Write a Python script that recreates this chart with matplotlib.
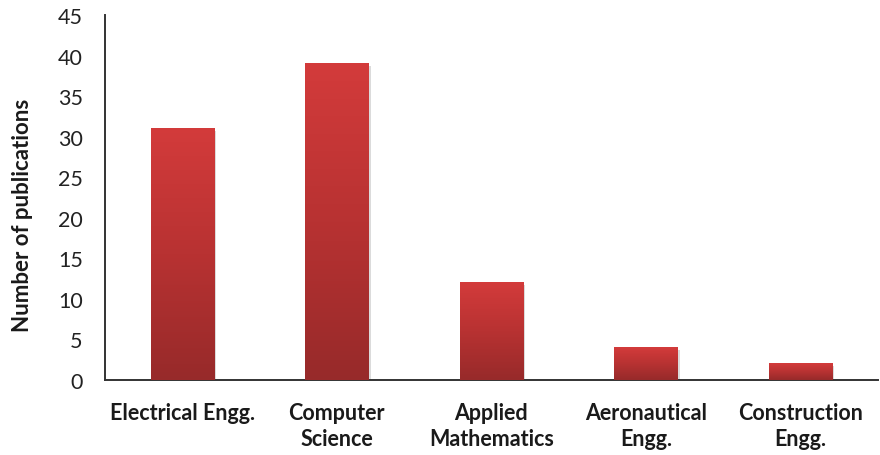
import matplotlib
matplotlib.use("Agg")
import matplotlib.pyplot as plt
import matplotlib.patheffects as pe
import numpy as np
from matplotlib.colors import LinearSegmentedColormap

categories = ["Electrical Engg.", "Computer\nScience", "Applied\nMathematics",
              "Aeronautical\nEngg.", "Construction\nEngg."]
publications = [31, 39, 12, 4, 2]
y_ticks = [0, 5, 10, 15, 20, 25, 30, 35, 40, 45]

plt.rcParams["font.family"] = ["Lato", "DejaVu Sans"]

fig = plt.figure(figsize=(8.8, 4.56), dpi=100)
ax = fig.add_axes([0.1193, 0.1645, 0.878, 0.8004])

x = np.arange(len(categories))
bars = ax.bar(x, publications, width=0.41, color="none", edgecolor="none", zorder=2,
              path_effects=[pe.SimplePatchShadow(offset=(1.5, -1.5), shadow_rgbFace="#8a8a8a", alpha=0.3)])

# vertical red gradient inside every bar: lighter at the top, darker at the base
cmap = LinearSegmentedColormap.from_list("barred", ["#972a2a", "#b83232", "#d33b3b"])
grad = np.linspace(0, 1, 256).reshape(-1, 1)
for b in bars:
    x0, y0 = b.get_x(), b.get_y()
    w, h = b.get_width(), b.get_height()
    ax.imshow(grad, cmap=cmap, origin="lower", aspect="auto",
              extent=(x0, x0 + w, y0, y0 + h), zorder=3, interpolation="bilinear")

ax.set_xlim(-0.5, len(categories) - 0.5)
ax.set_ylim(0, 45)
ax.set_yticks(y_ticks)
ax.set_yticklabels([str(t) for t in y_ticks], fontsize=15.5, color="#222222")
ax.set_xticks(x)
ax.set_xticklabels(categories, fontsize=15.5, fontweight="bold", color="#1a1a1a",
                   linespacing=1.3)
ax.tick_params(axis="y", length=0, pad=16)
ax.tick_params(axis="x", length=0, pad=16)

for s in ["top", "right"]:
    ax.spines[s].set_visible(False)
for s in ["left", "bottom"]:
    ax.spines[s].set_color("#333333")
    ax.spines[s].set_linewidth(1.4)

ax.set_ylabel("Number of publications", fontsize=16, fontweight="bold",
              color="#1a1a1a")
ax.yaxis.set_label_coords(-0.093, 0.455)

fig.savefig("out.png", dpi=100)
